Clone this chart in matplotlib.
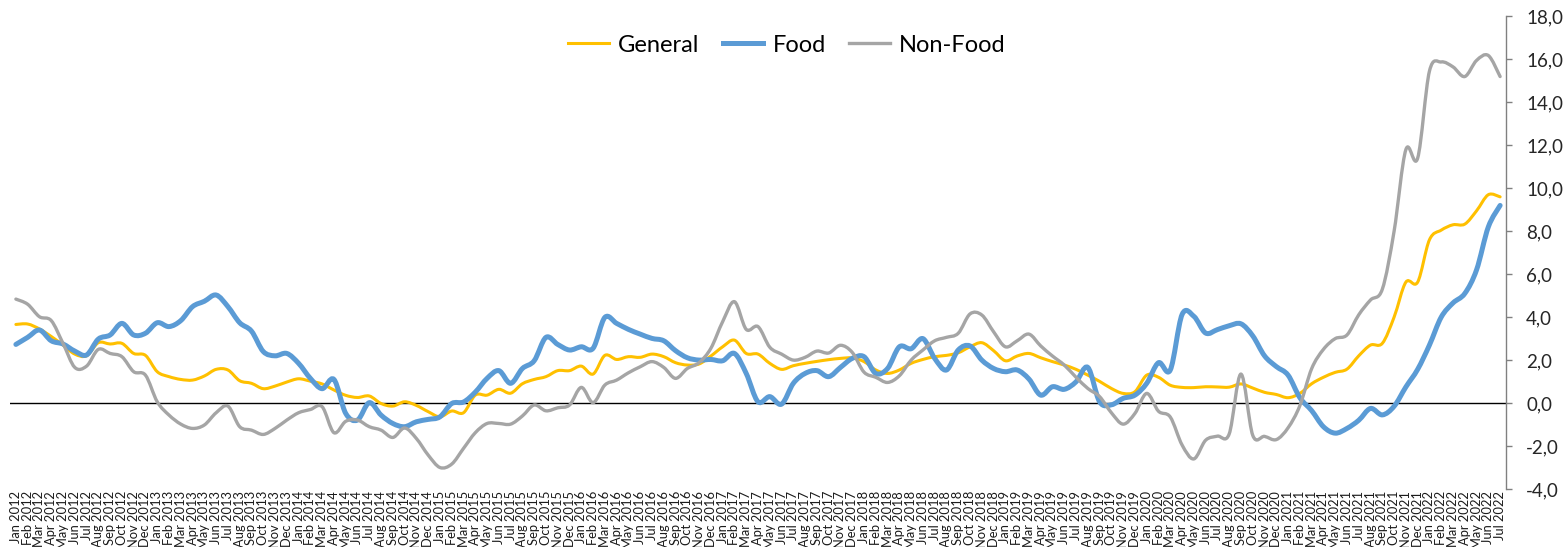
import numpy as np
import matplotlib.pyplot as plt
from matplotlib.path import Path
from matplotlib.patches import PathPatch
from matplotlib.lines import Line2D

plt.rcParams['font.family'] = ['Lato', 'DejaVu Sans']

month_names = ['Jan', 'Feb', 'Mar', 'Apr', 'May', 'Jun',
               'Jul', 'Aug', 'Sep', 'Oct', 'Nov', 'Dec']
years = list(range(2012, 2023))
last_month = 7  # Jul 2022

general = [3.66, 3.68, 3.45, 3.10, 2.70, 2.28, 2.20, 2.81, 2.75, 2.78, 2.31, 2.22,
           1.46, 1.23, 1.10, 1.07, 1.26, 1.57, 1.54, 1.04, 0.92, 0.67, 0.79, 0.98,
           1.13, 1.02, 0.89, 0.61, 0.36, 0.26, 0.33, -0.02, -0.14, 0.06, -0.11, -0.40,
           -0.64, -0.37, -0.45, 0.37, 0.37, 0.64, 0.46, 0.90, 1.10, 1.23, 1.51, 1.51,
           1.72, 1.35, 2.22, 2.03, 2.16, 2.13, 2.28, 2.16, 1.88, 1.77, 1.82, 2.19,
           2.62, 2.93, 2.31, 2.28, 1.85, 1.57, 1.74, 1.85, 1.94, 2.02, 2.08, 2.10,
           1.93, 1.54, 1.38, 1.54, 1.85, 2.03, 2.16, 2.22, 2.34, 2.62, 2.81, 2.44,
           1.97, 2.19, 2.31, 2.11, 1.93, 1.77, 1.57, 1.30, 1.01, 0.68, 0.45, 0.53,
           1.30, 1.20, 0.83, 0.73, 0.72, 0.76, 0.75, 0.74, 0.89, 0.70, 0.50, 0.40,
           0.25, 0.45, 0.90, 1.20, 1.43, 1.58, 2.20, 2.70, 2.78, 4.00, 5.63, 5.63,
           7.60, 8.05, 8.30, 8.33, 8.95, 9.70, 9.60]

food = [2.73, 3.06, 3.40, 2.90, 2.75, 2.42, 2.24, 2.98, 3.17, 3.71, 3.17, 3.25,
        3.74, 3.56, 3.84, 4.49, 4.74, 5.03, 4.49, 3.74, 3.35, 2.40, 2.20, 2.31,
        1.85, 1.15, 0.67, 1.10, -0.48, -0.79, 0.02, -0.56, -0.95, -1.10, -0.87, -0.76,
        -0.64, -0.02, 0.05, 0.51, 1.15, 1.51, 0.92, 1.61, 1.97, 3.06, 2.73, 2.47,
        2.62, 2.55, 3.99, 3.71, 3.43, 3.21, 3.01, 2.90, 2.44, 2.11, 2.00, 2.03,
        1.97, 2.31, 1.38, 0.06, 0.30, -0.05, 0.92, 1.38, 1.51, 1.23, 1.66, 2.08,
        2.16, 1.38, 1.61, 2.62, 2.53, 3.00, 2.08, 1.54, 2.47, 2.66, 2.00, 1.61,
        1.46, 1.54, 1.12, 0.37, 0.76, 0.64, 0.99, 1.66, 0.06, -0.08, 0.22, 0.37,
        0.92, 1.88, 1.54, 4.12, 4.04, 3.26, 3.42, 3.60, 3.69, 3.13, 2.20, 1.70,
        1.30, 0.25, -0.35, -1.10, -1.40, -1.18, -0.80, -0.25, -0.55, -0.15, 0.75, 1.57,
        2.70, 4.00, 4.66, 5.10, 6.20, 8.20, 9.20]

non_food = [4.84, 4.60, 4.02, 3.84, 2.78, 1.66, 1.72, 2.50, 2.31, 2.16, 1.46, 1.30,
            0.06, -0.56, -0.98, -1.18, -1.02, -0.45, -0.14, -1.10, -1.26, -1.46, -1.18, -0.79,
            -0.45, -0.30, -0.17, -1.38, -0.85, -0.79, -1.10, -1.26, -1.60, -1.16, -1.65, -2.42,
            -3.00, -2.84, -2.11, -1.38, -0.95, -0.95, -0.98, -0.60, -0.09, -0.36, -0.22, -0.09,
            0.73, 0.02, 0.84, 1.07, 1.41, 1.69, 1.93, 1.66, 1.15, 1.61, 1.88, 2.55,
            3.79, 4.72, 3.43, 3.56, 2.60, 2.28, 2.00, 2.13, 2.42, 2.33, 2.69, 2.36,
            1.44, 1.20, 0.96, 1.27, 2.00, 2.47, 2.90, 3.06, 3.25, 4.15, 4.10, 3.32,
            2.62, 2.90, 3.21, 2.66, 2.19, 1.77, 1.20, 0.68, 0.30, -0.45, -0.98, -0.48,
            0.45, -0.38, -0.65, -1.95, -2.60, -1.73, -1.54, -1.44, 1.35, -1.50, -1.55, -1.70,
            -1.15, -0.12, 1.60, 2.50, 3.00, 3.17, 4.11, 4.80, 5.30, 8.00, 11.80, 11.40,
            15.45, 15.88, 15.65, 15.20, 15.95, 16.18, 15.20]

labels = [m + ' ' + str(y) for y in years for m in month_names]
labels = labels[:len(labels) - (12 - last_month)]
x = np.arange(len(labels))


def smooth_patch(xs, ys, color, lw):
    # excel-like smoothed line: bezier through every point
    pts = np.column_stack([xs, ys]).astype(float)
    n = len(pts)
    verts = [pts[0]]
    codes = [Path.MOVETO]
    for i in range(n - 1):
        p0 = pts[max(i - 1, 0)]
        p1 = pts[i]
        p2 = pts[i + 1]
        p3 = pts[min(i + 2, n - 1)]
        verts += [p1 + (p2 - p0) / 6, p2 - (p3 - p1) / 6, p2]
        codes += [Path.CURVE4] * 3
    return PathPatch(Path(verts, codes), fill=False, edgecolor=color, lw=lw,
                     capstyle='round', joinstyle='round')


fig = plt.figure(figsize=(15.66, 5.47), dpi=100)
ax = fig.add_axes([10 / 1566, 1 - 489 / 547, 1496 / 1566, 472.6 / 547])

series = [('General', general, '#FFC000', 2.2),
          ('Food', food, '#5B9BD5', 3.6),
          ('Non-Food', non_food, '#A5A5A5', 2.4)]

ax.axhline(0, color='black', lw=1.0, zorder=1)

handles = []
for name, vals, col, lw in series:
    ax.add_patch(smooth_patch(x, vals, col, lw))
    handles.append(Line2D([], [], color=col, lw=lw, label=name))

ax.set_xlim(-0.5, len(labels) - 0.5)
ax.set_ylim(-4, 18)

for side in ['top', 'left', 'bottom']:
    ax.spines[side].set_visible(False)
ax.spines['right'].set_color('#808080')
ax.spines['right'].set_linewidth(1)

ax.yaxis.tick_right()
yt = np.arange(-4, 19, 2)
ax.set_yticks(yt)
ax.set_yticklabels([f'{v:.1f}'.replace('.', ',') for v in yt])
ax.tick_params(axis='y', direction='out', length=4.5, width=1, color='#808080',
               pad=10, labelsize=13.5, labelcolor='#262626')

ax.set_xticks(x)
ax.set_xticklabels(labels, rotation=90, ha='center', va='top')
ax.tick_params(axis='x', length=0, pad=1.5, labelsize=9.3, labelcolor='#1a1a1a')

fig.legend(handles=handles, loc='center', bbox_to_anchor=(787 / 1566, 1 - 45 / 547),
           ncol=3, frameon=False, fontsize=17, handlelength=1.7,
           handletextpad=0.4, columnspacing=1.0)

fig.savefig('out.png', dpi=100)
